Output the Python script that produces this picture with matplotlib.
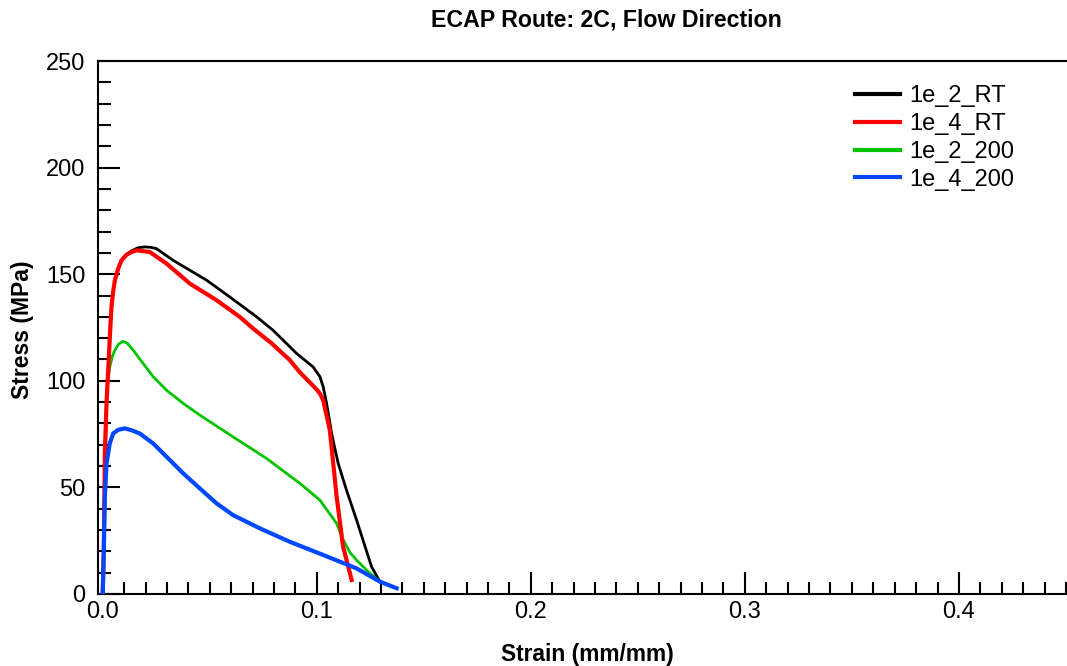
import matplotlib
matplotlib.use('Agg')
import matplotlib.pyplot as plt
import matplotlib.ticker as ticker

plt.rcParams['font.family'] = ['Liberation Sans', 'DejaVu Sans']

# strain (mm/mm) / stress (MPa)
strain_2_rt = [0.0, 0.0005, 0.001, 0.0018, 0.0025, 0.0033, 0.0041, 0.0049, 0.0057, 0.0072,
               0.0088, 0.011, 0.0135, 0.0165, 0.0197, 0.0225, 0.0251, 0.0329, 0.0485, 0.0594,
               0.0719, 0.0796, 0.0906, 0.0983, 0.1015, 0.103, 0.1046, 0.107, 0.110, 0.1139,
               0.1186, 0.1256, 0.1295]
stress_2_rt = [0.0, 20.0, 66.0, 90.0, 103.6, 120.0, 134.7, 142.0, 147.2, 152.5,
               156.5, 159.2, 161.0, 162.4, 162.8, 162.6, 162.0, 156.5, 147.2, 139.3,
               130.0, 123.7, 112.8, 106.5, 101.9, 97.2, 89.4, 75.0, 61.3, 48.7,
               34.7, 12.8, 5.8]

strain_4_rt = [0.0, 0.0005, 0.001, 0.0018, 0.0025, 0.0033, 0.0041, 0.0049, 0.0057, 0.0072,
               0.0088, 0.011, 0.0135, 0.0158, 0.022, 0.0298, 0.0407, 0.0532, 0.064, 0.0703,
               0.0790, 0.0874, 0.0921, 0.0999, 0.1015, 0.103, 0.1061, 0.1093, 0.1123, 0.1163]
stress_4_rt = [0.0, 20.0, 66.0, 90.0, 103.6, 120.0, 134.7, 142.0, 147.2, 152.5,
               156.5, 159.0, 160.4, 161.2, 160.4, 155.0, 145.6, 137.8, 130.0, 124.5,
               117.5, 109.7, 104.0, 96.0, 94.0, 90.9, 76.9, 45.6, 22.2, 6.6]

strain_2_200 = [0.0, 0.0007, 0.0012, 0.0018, 0.0025, 0.0033, 0.0045, 0.0057, 0.0075, 0.0095,
                0.0115, 0.0142, 0.0189, 0.0236, 0.0298, 0.0376, 0.0454, 0.0609, 0.0765,
                0.0921, 0.1014, 0.1093, 0.1123, 0.1155, 0.1186, 0.124, 0.1295]
stress_2_200 = [0.0, 25.0, 60.0, 92.5, 100.5, 106.5, 111.5, 114.4, 117.3, 118.5,
                117.6, 114.4, 108.1, 101.9, 95.6, 89.4, 83.9, 73.7, 63.6,
                51.9, 44.1, 33.1, 25.5, 19.5, 15.9, 10.5, 5.8]

strain_4_200 = [0.0, 0.0005, 0.001, 0.0018, 0.0033, 0.0049, 0.0072, 0.0103, 0.0135, 0.0173,
                0.0236, 0.0298, 0.0376, 0.0454, 0.0532, 0.0609, 0.0734, 0.0874, 0.103,
                0.1186, 0.1295, 0.1373]
stress_4_200 = [0.0, 20.0, 45.6, 61.3, 70.6, 75.3, 77.0, 77.7, 76.8, 75.3,
                70.6, 64.4, 56.6, 49.5, 42.5, 37.0, 30.8, 24.5, 18.3,
                12.0, 5.8, 2.7]

W, H = 1067, 666
fig = plt.figure(figsize=(W / 100, H / 100), dpi=100)
ax = fig.add_axes([98 / W, (H - 594) / H, (W - 98) / W, (594 - 61) / H])

ax.plot(strain_2_rt, stress_2_rt, color='black', linewidth=2.0, label='1e_2_RT', zorder=3)
ax.plot(strain_4_rt, stress_4_rt, color='#ff0000', linewidth=3.0, label='1e_4_RT', zorder=4)
ax.plot(strain_2_200, stress_2_200, color='#00c400', linewidth=2.0, label='1e_2_200', zorder=3)
ax.plot(strain_4_200, stress_4_200, color='#0048ff', linewidth=3.0, label='1e_4_200', zorder=4)

ax.set_xlim(-0.0022, 0.4505)
ax.set_ylim(0, 250)

ax.xaxis.set_major_locator(ticker.MultipleLocator(0.1))
ax.xaxis.set_minor_locator(ticker.MultipleLocator(0.01))
ax.yaxis.set_major_locator(ticker.MultipleLocator(50))
ax.yaxis.set_minor_locator(ticker.MultipleLocator(10))
ax.xaxis.set_major_formatter(ticker.FormatStrFormatter('%.1f'))

ax.tick_params(which='both', direction='in', top=False, right=False, width=1.5, colors='k')
ax.tick_params(which='major', length=16, labelsize=17, pad=5)
ax.tick_params(which='minor', length=9)
ax.tick_params(axis='y', which='major', pad=9)

ax.spines['right'].set_visible(False)
for s in ['top', 'bottom', 'left']:
    ax.spines[s].set_linewidth(1.5)
    ax.spines[s].set_color('k')

fig.text(606 / W, 1 - 20 / H, 'ECAP Route: 2C, Flow Direction', fontsize=16.7, fontweight='bold',
         ha='center', va='center')
fig.text(587 / W, 1 - 654 / H, 'Strain (mm/mm)', fontsize=16.4, fontweight='bold',
         ha='center', va='center')
fig.text(22 / W, 1 - 330 / H, 'Stress (MPa)', fontsize=16.5, fontweight='bold',
         ha='center', va='center', rotation=90)

leg = ax.legend(loc='upper left', bbox_to_anchor=(855 / W, 1 - 85 / H),
                bbox_transform=fig.transFigure, frameon=False, fontsize=17,
                handlelength=1.9, handletextpad=0.40, labelspacing=0.25,
                borderpad=0, borderaxespad=0)
for line in leg.get_lines():
    line.set_linewidth(3.0)

plt.savefig('out.png', dpi=100)
plt.close('all')
